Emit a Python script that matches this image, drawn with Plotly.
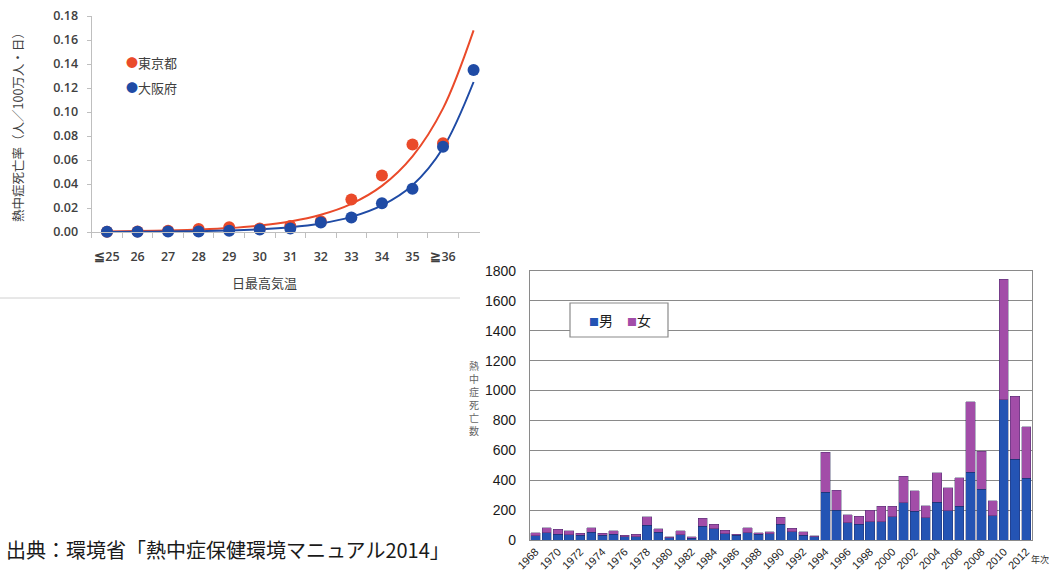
import plotly.graph_objects as go

W, H = 1049, 573

# ---- Daily maximum temperature vs. heat-stroke mortality rate ----
temp_labels = ["≦25", "26", "27", "28", "29", "30", "31", "32", "33", "34", "35", "≧36"]
temp_pos = list(range(13))
tokyo_rate = [0.0003, 0.0005, 0.001, 0.0025, 0.004, 0.003, 0.005, 0.009,
              0.027, 0.047, 0.073, 0.074, None]
osaka_rate = [0.0002, 0.0003, 0.0005, 0.0005, 0.001, 0.002, 0.003, 0.008,
              0.012, 0.024, 0.036, 0.071, 0.135]
# exponential trend lines
tokyo_trend = [0.0005, 0.0008, 0.0013, 0.0021, 0.0033, 0.0054, 0.0088, 0.0144,
               0.0235, 0.0384, 0.063, 0.103, 0.168]
osaka_trend = [0.0001, 0.0002, 0.0004, 0.0007, 0.0013, 0.0023, 0.0040, 0.0071,
               0.0126, 0.0222, 0.039, 0.070, 0.125]

# ---- Annual heat-stroke deaths by sex ----
years = list(range(1968, 2013))
male = [27, 49, 40, 36, 31, 51, 33, 40, 22, 22,
        98, 53, 15, 36, 13, 92, 74, 43, 31, 50,
        37, 42, 105, 56, 33, 22, 321, 200, 116, 107,
        123, 123, 156, 250, 194, 149, 254, 195, 227, 455,
        339, 163, 937, 542, 413]
female = [22, 33, 31, 26, 13, 31, 11, 22, 9, 18,
          57, 22, 7, 26, 9, 53, 31, 22, 9, 31,
          13, 12, 47, 22, 23, 7, 265, 134, 53, 53,
          75, 104, 71, 178, 134, 81, 196, 156, 190, 470,
          256, 100, 809, 421, 345]
year_ticks = years[::2]

RED = "#EA4A2A"
BLUE = "#1F4BA5"
BAR_BLUE = "#2454B4"
BAR_PURPLE = "#A24DA8"
JP = "Noto Sans CJK JP"
SANS = "Liberation Sans, Noto Sans CJK JP"
NUM1 = "Open Sans, Liberation Sans"


def px(x):
    return x / W


def py(y):
    return 1 - y / H


fig = go.Figure()

# trend curves
fig.add_trace(go.Scatter(x=temp_pos, y=tokyo_trend, mode="lines",
                         line=dict(color=RED, width=2, shape="spline"),
                         xaxis="x", yaxis="y", showlegend=False, hoverinfo="skip"))
fig.add_trace(go.Scatter(x=temp_pos, y=osaka_trend, mode="lines",
                         line=dict(color=BLUE, width=2, shape="spline"),
                         xaxis="x", yaxis="y", showlegend=False, hoverinfo="skip"))
# observed rates
fig.add_trace(go.Scatter(x=temp_pos, y=tokyo_rate, mode="markers", name="東京都",
                         marker=dict(color=RED, size=12),
                         xaxis="x", yaxis="y", cliponaxis=False, showlegend=False))
fig.add_trace(go.Scatter(x=temp_pos, y=osaka_rate, mode="markers", name="大阪府",
                         marker=dict(color=BLUE, size=12),
                         xaxis="x", yaxis="y", cliponaxis=False, showlegend=False))

# stacked bars
bar_line = dict(color="rgba(30,30,80,0.55)", width=0.6)
fig.add_trace(go.Bar(x=years, y=male, name="男", marker=dict(color=BAR_BLUE, line=bar_line),
                     xaxis="x2", yaxis="y2", showlegend=False))
fig.add_trace(go.Bar(x=years, y=female, name="女", marker=dict(color=BAR_PURPLE, line=bar_line),
                     xaxis="x2", yaxis="y2", showlegend=False))

AX1 = "#bfbfbf"
TXT1 = "#404040"
GRID2 = "#8a8a8a"

fig.update_layout(
    width=W, height=H,
    margin=dict(l=0, r=0, t=0, b=0, autoexpand=False),
    paper_bgcolor="white", plot_bgcolor="white",
    font=dict(family=SANS, color=TXT1),
    barmode="stack", bargap=0.17,
    xaxis=dict(
        domain=[px(91.7), px(480)], range=[-0.5, 12.21],
        showline=True, linecolor=AX1, linewidth=1.2,
        showgrid=False, zeroline=False,
        tickmode="array", tickvals=temp_pos[:12], ticktext=temp_labels,
        ticks="", ticklabelstandoff=13,
        tickfont=dict(size=12.5, color=TXT1, family=NUM1, weight=600),
        minor=dict(ticks="outside", tickmode="linear", tick0=-0.5, dtick=1,
                   ticklen=5, tickcolor=AX1, tickwidth=1.2, showgrid=False),
        anchor="y", fixedrange=True,
    ),
    yaxis=dict(
        domain=[py(232), py(16)], range=[0, 0.18],
        showline=True, linecolor=AX1, linewidth=1.2,
        showgrid=False, zeroline=False,
        tickmode="linear", tick0=0, dtick=0.02, tickformat=".2f",
        ticks="outside", ticklen=4, tickcolor=AX1, tickwidth=1.2,
        ticklabelstandoff=6,
        tickfont=dict(size=12.5, color=TXT1, family=NUM1, weight=600),
        anchor="x", fixedrange=True,
    ),
    xaxis2=dict(
        domain=[px(530), px(1031.7)], range=[1967.5, 2012.5],
        showline=True, mirror=True, linecolor=GRID2, linewidth=1.2,
        showgrid=False, zeroline=False,
        tickmode="array", tickvals=year_ticks, ticktext=[str(y) for y in year_ticks],
        tickangle=-45, ticks="", ticklabelstandoff=0,
        tickfont=dict(size=11, color="#222222", family=SANS),
        anchor="y2", fixedrange=True,
    ),
    yaxis2=dict(
        domain=[py(540), py(271)], range=[0, 1800],
        showline=True, mirror=True, linecolor=GRID2, linewidth=1.2,
        showgrid=True, gridcolor=GRID2, gridwidth=1.2, zeroline=False,
        tickmode="linear", tick0=0, dtick=200,
        ticks="", ticklabelstandoff=10,
        tickfont=dict(size=14, color="#1a1a1a", family=SANS),
        anchor="x2", fixedrange=True,
    ),
)

P = dict(xref="paper", yref="paper", showarrow=False)
annotations = [
    # temperature chart titles
    dict(x=px(18), y=py(124), text="熱中症死亡率（人／100万人・日）", textangle=-90,
         font=dict(size=12.5, color=TXT1, family=JP),
         xanchor="center", yanchor="middle", **P),
    dict(x=px(264), y=py(283), text="日最高気温",
         font=dict(size=13, color=TXT1, family=JP),
         xanchor="center", yanchor="middle", **P),
    # temperature chart legend
    dict(x=px(124), y=py(62.5),
         text=f"<span style='color:{RED};font-size:12px'>●</span>東京都",
         font=dict(size=13, color=TXT1, family=JP),
         xanchor="left", yanchor="middle", **P),
    dict(x=px(124), y=py(87.5),
         text=f"<span style='color:{BLUE};font-size:12px'>●</span>大阪府",
         font=dict(size=13, color=TXT1, family=JP),
         xanchor="left", yanchor="middle", **P),
    # bar chart legend
    dict(x=px(620), y=py(320),
         text=(f"<span style='color:{BAR_BLUE};font-size:10px'>■</span>男　"
               f"<span style='color:{BAR_PURPLE};font-size:10px'>■</span>女"),
         font=dict(size=14, color="#1a1a1a", family=JP),
         xanchor="center", yanchor="middle", **P),
    # bar chart axis titles
    dict(x=px(474), y=py(398), text="<br>".join("熱中症死亡数"),
         font=dict(size=10, color="#666666", family=JP),
         xanchor="center", yanchor="middle", **P),
    dict(x=px(1040), y=py(559), text="年次",
         font=dict(size=9, color="#333333", family=JP),
         xanchor="center", yanchor="middle", **P),
    # source note
    dict(x=px(4), y=py(549), text="出典：環境省「熱中症保健環境マニュアル2014」",
         font=dict(size=20, color="#1a1a1a", family=JP),
         xanchor="left", yanchor="middle", **P),
]
fig.update_layout(annotations=annotations)

fig.update_layout(shapes=[
    # rule under the temperature chart
    dict(type="line", xref="paper", yref="paper", x0=0, x1=px(460), y0=py(298), y1=py(298),
         line=dict(color="#d0d0d0", width=1)),
    # legend frame of the bar chart
    dict(type="rect", xref="paper", yref="paper", x0=px(570), x1=px(668), y0=py(337), y1=py(303),
         fillcolor="white", line=dict(color="#8a8a8a", width=1.2), layer="above"),
])

fig.write_html("out.html")
